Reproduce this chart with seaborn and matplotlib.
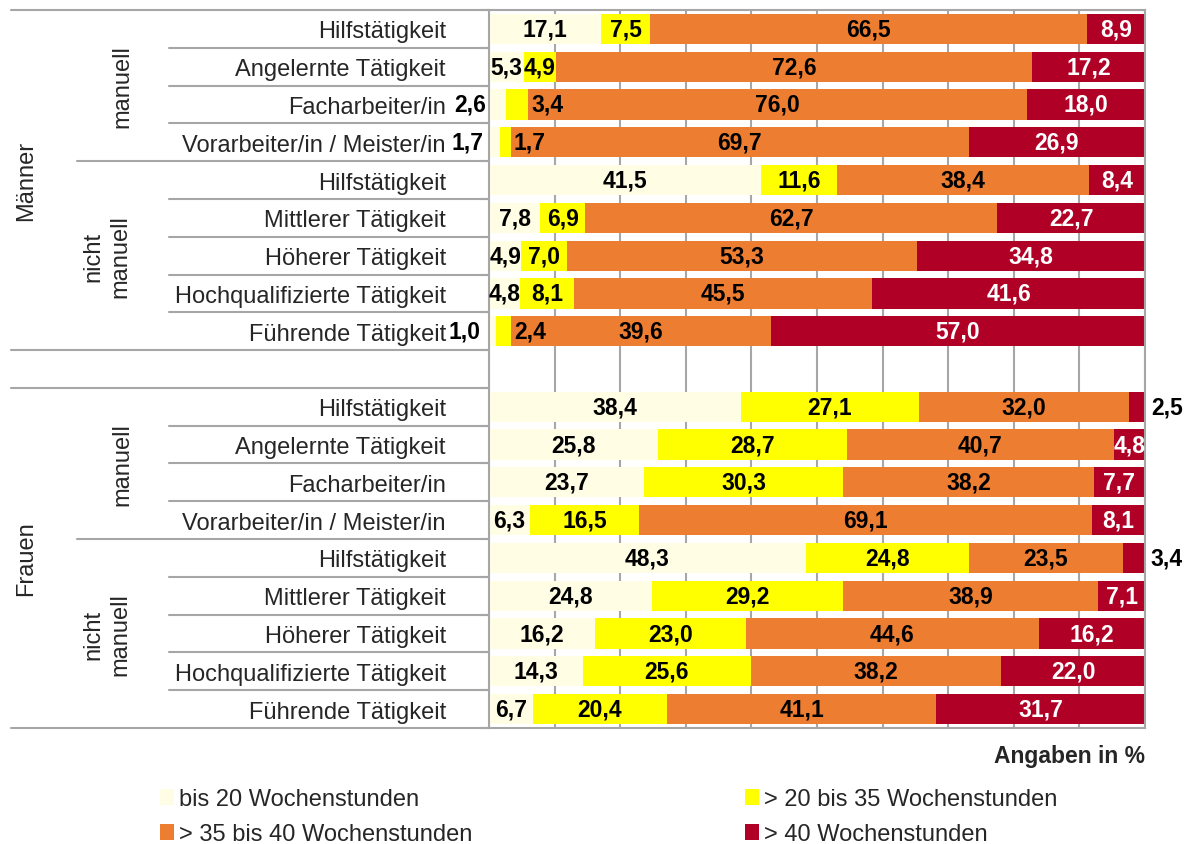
import numpy as np
import pandas as pd
import seaborn as sns
import matplotlib.pyplot as plt
from matplotlib.patches import Patch

# categories (same list for both genders)
categories = ["Hilfstätigkeit", "Angelernte Tätigkeit", "Facharbeiter/in", "Vorarbeiter/in / Meister/in",
              "Hilfstätigkeit", "Mittlerer Tätigkeit", "Höherer Tätigkeit",
              "Hochqualifizierte Tätigkeit", "Führende Tätigkeit"]
series = ["bis 20 Wochenstunden", "> 20 bis 35 Wochenstunden",
          "> 35 bis 40 Wochenstunden", "> 40 Wochenstunden"]
colors = ["#FFFDE4", "#FFFF00", "#ED7D31", "#B00026"]

maenner_bis20 = [17.1, 5.3, 2.6, 1.7, 41.5, 7.8, 4.9, 4.8, 1.0]
maenner_20_35 = [7.5, 4.9, 3.4, 1.7, 11.6, 6.9, 7.0, 8.1, 2.4]
maenner_35_40 = [66.5, 72.6, 76.0, 69.7, 38.4, 62.7, 53.3, 45.5, 39.6]
maenner_ueber40 = [8.9, 17.2, 18.0, 26.9, 8.4, 22.7, 34.8, 41.6, 57.0]

frauen_bis20 = [38.4, 25.8, 23.7, 6.3, 48.3, 24.8, 16.2, 14.3, 6.7]
frauen_20_35 = [27.1, 28.7, 30.3, 16.5, 24.8, 29.2, 23.0, 25.6, 20.4]
frauen_35_40 = [32.0, 40.7, 38.2, 69.1, 23.5, 38.9, 44.6, 38.2, 41.1]
frauen_ueber40 = [2.5, 4.8, 7.7, 8.1, 3.4, 7.1, 16.2, 22.0, 31.7]

# label placement for small segments: (row, segment) -> mode
label_mode = {(2, 0): "out_left", (2, 1): "after",
              (3, 0): "out_left", (3, 1): "after",
              (8, 0): "out_left", (8, 1): "after",
              (10, 3): "out_right", (14, 3): "out_right"}

sns.set_style("white")
plt.rcParams["font.family"] = ["Liberation Sans", "DejaVu Sans"]

rows_m = [f"M{i}" for i in range(9)]
rows_f = [f"F{i}" for i in range(9)]
order = rows_m + ["gap"] + rows_f

df = pd.DataFrame({
    "row": rows_m + rows_f,
    "s0": maenner_bis20 + frauen_bis20,
    "s1": maenner_20_35 + frauen_20_35,
    "s2": maenner_35_40 + frauen_35_40,
    "s3": maenner_ueber40 + frauen_ueber40,
})
vals = df[["s0", "s1", "s2", "s3"]].to_numpy()
cums = np.cumsum(vals, axis=1)
for k in range(4):
    df[f"c{k}"] = cums[:, k]

W, H = 1185, 845
fig = plt.figure(figsize=(W / 100, H / 100), dpi=100)
ax = fig.add_axes([489 / W, 1 - 729 / H, 656 / W, 718 / H])

for k in reversed(range(4)):
    sns.barplot(data=df, x=f"c{k}", y="row", order=order, orient="h", color=colors[k],
                saturation=1, width=0.8, errorbar=None, linewidth=0, ax=ax)

gray = "#A6A6A6"
ax.set_xlim(0, 100)
ax.set_ylim(18.5, -0.5)
ax.set_xticks(np.arange(0, 101, 10))
ax.set_xticklabels([])
ax.tick_params(axis="x", length=0)
ax.set_axisbelow(True)
ax.grid(axis="x", color=gray, lw=1.5)
ax.grid(axis="y", visible=False)
ax.set_xlabel("")
ax.set_ylabel("")

ax.set_yticks(range(19))
ax.set_yticklabels(categories + [""] + categories, fontsize=17)
ax.set_yticks(np.arange(-0.5, 19, 1), minor=True)
ax.tick_params(axis="y", which="major", length=0, pad=31)
ax.tick_params(axis="y", which="minor", length=6.5, width=1.5, color=gray, left=True)
for sp in ax.spines.values():
    sp.set_color(gray)
    sp.set_linewidth(1.5)

# separator lines in the label area
tr = ax.get_yaxis_transform()
x_full, x_sub, x_cat = (11 - 489) / 656, (77 - 489) / 656, (169 - 489) / 656
for b in [-0.5, 8.5, 9.5, 18.5]:
    ax.plot([x_full, 0], [b, b], transform=tr, color=gray, lw=1.5, clip_on=False)
for b in [3.5, 13.5]:
    ax.plot([x_sub, 0], [b, b], transform=tr, color=gray, lw=1.5, clip_on=False)
for b in [0.5, 1.5, 2.5, 4.5, 5.5, 6.5, 7.5, 10.5, 11.5, 12.5, 14.5, 15.5, 16.5, 17.5]:
    ax.plot([x_cat, 0], [b, b], transform=tr, color=gray, lw=1.5, clip_on=False)

# group labels
for y0, name in [(4, "Männer"), (14, "Frauen")]:
    ax.text((26 - 489) / 656, y0, name, transform=tr, rotation=90, ha="center", va="center", fontsize=17)
    ax.text((122 - 489) / 656, y0 - 2.5, "manuell", transform=tr, rotation=90,
            ha="center", va="center", fontsize=17)
    ax.text((107 - 489) / 656, y0 + 2, "nicht\nmanuell", transform=tr, rotation=90,
            ha="center", va="center", fontsize=17, multialignment="center", linespacing=1.25)

# data labels
for i, r in enumerate(df["row"]):
    y = order.index(r)
    for k in range(4):
        v = vals[i, k]
        start = cums[i, k] - v
        mode = label_mode.get((y, k), "center")
        color = "white" if (k == 3 and mode == "center") else "black"
        txt = f"{v:.1f}".replace(".", ",")
        if mode == "out_left":
            x, ha = start + v / 2 - 4.2, "center"
        elif mode == "after":
            x, ha = cums[i, k] + 0.4, "left"
        elif mode == "out_right":
            x, ha = 100.9, "left"
        else:
            x, ha = start + v / 2, "center"
        ax.text(x, y, txt, ha=ha, va="center", fontsize=16.5, fontweight="bold",
                color=color, clip_on=False)

fig.text(1145 / W, 1 - 757 / H, "Angaben in %", ha="right", va="center",
         fontsize=16.5, fontweight="bold")

handles = [Patch(facecolor=colors[i], edgecolor="none", label=series[i]) for i in [0, 2, 1, 3]]
fig.legend(handles=handles, ncol=2, loc="upper left", bbox_to_anchor=(160 / W, 1 - 789 / H),
           frameon=False, fontsize=17, borderpad=0, borderaxespad=0, handlelength=0.59,
           handleheight=0.65, handletextpad=0.21, columnspacing=11.57, labelspacing=0.55)

fig.savefig("out.png", dpi=100)
